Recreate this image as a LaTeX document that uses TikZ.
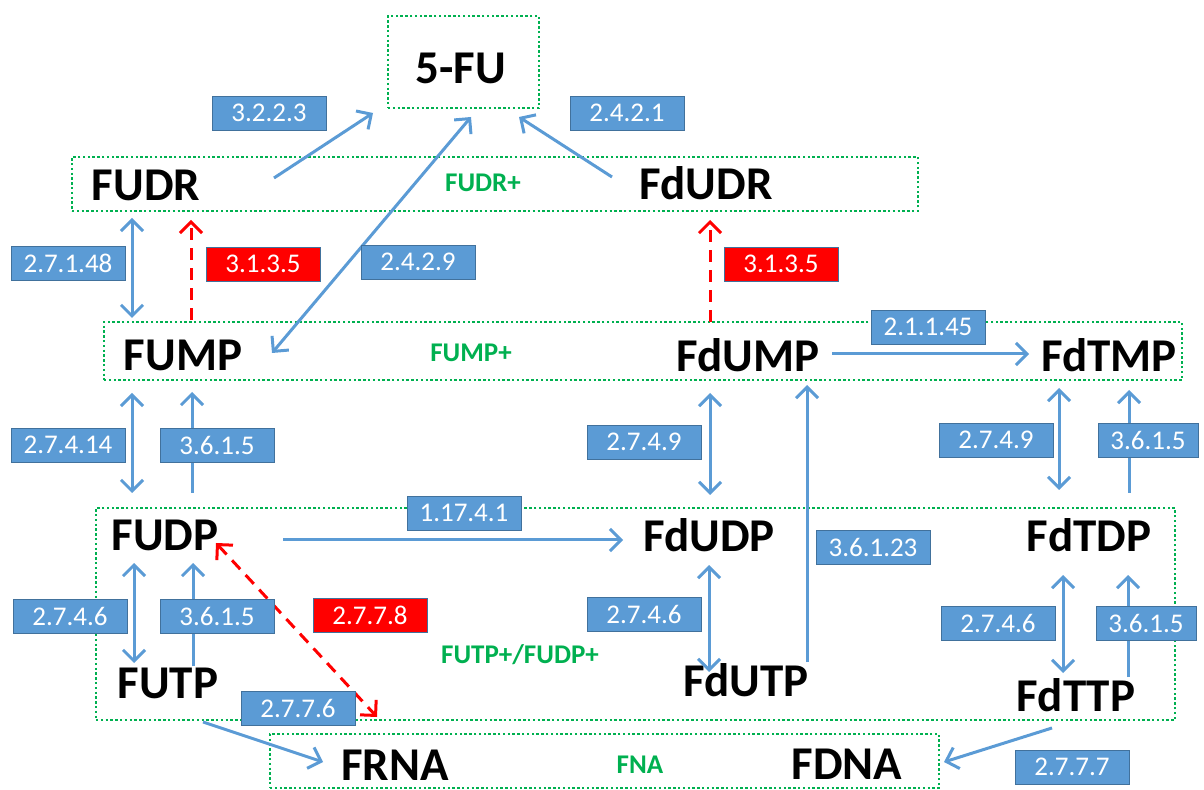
\documentclass[tikz,border=0pt]{standalone}
\usepackage{fontspec}
\setmainfont{Carlito}
\usetikzlibrary{arrows.meta}

\definecolor{ecblue}{RGB}{91,155,213}
\definecolor{ecedge}{RGB}{65,113,156}
\definecolor{grpgreen}{RGB}{0,176,80}

\tikzset{
  species/.style={font=\bfseries\fontsize{23.5}{28}\selectfont, inner sep=0pt},
  ec/.style={fill=ecblue, draw=ecedge, line width=0.4pt, text=white,
    font=\fontsize{13.5}{16}\selectfont, minimum width=57pt, minimum height=17pt, inner sep=0pt},
  ecred/.style={ec, fill=red},
  grp/.style={draw=grpgreen, line width=1.3pt, dash pattern=on 1.2pt off 1.2pt, inner sep=0pt},
  grplabel/.style={text=grpgreen, font=\bfseries\fontsize{13.5}{16}\selectfont},
  barb/.tip={Straight Barb[length=5.5pt,width=11pt]},
  conv/.style={draw=ecblue, line width=1.5pt, -barb},
  rev/.style={draw=ecblue, line width=1.5pt, barb-barb},
  inhib/.style={draw=red, line width=1.5pt, dash pattern=on 6pt off 4pt, -barb},
}

\begin{document}
\begin{tikzpicture}[x=0.5pt,y=-0.5pt]
  \useasboundingbox (0,0) rectangle (1204,790);

  % group boxes
  \node[grp, minimum width=75.5pt, minimum height=46pt] (fugrp) at (463.5,62) {};
  \node[grp, minimum width=423pt, minimum height=27pt] (fudrgrp) at (495,184) {};
  \node[grp, minimum width=539pt, minimum height=29pt] (fumpgrp) at (643,351) {};
  \node[grp, minimum width=539.5pt, minimum height=106pt] (futpgrp) at (635.5,614) {};
  \node[grp, minimum width=334.5pt, minimum height=27pt] (fnagrp) at (604.5,761) {};

  \node[grplabel] (fudrlbl) at (483,183) {FUDR+};
  \node[grplabel] (fumplbl) at (471,353) {FUMP+};
  \node[grplabel] (futplbl) at (520,655) {FUTP+/FUDP+};
  \node[grplabel] (fnalbl) at (640,765) {FNA};

  % species
  \node[species] (fu) at (461,68) {5-FU};
  \node[species] (fudr) at (146,185) {FUDR};
  \node[species] (fdudr) at (706,183) {FdUDR};
  \node[species] (fump) at (183,355) {FUMP};
  \node[species] (fdump) at (748,355) {FdUMP};
  \node[species] (fdtmp) at (1109,355) {FdTMP};
  \node[species] (fudp) at (165,535) {FUDP};
  \node[species] (fdudp) at (709,535) {FdUDP};
  \node[species] (fdtdp) at (1089,535) {FdTDP};
  \node[species] (futp) at (168,683) {FUTP};
  \node[species] (fdutp) at (746,680) {FdUTP};
  \node[species] (fdttp) at (1076,695) {FdTTP};
  \node[species] (frna) at (395,765) {FRNA};
  \node[species] (fdna) at (847,764) {FDNA};
  \coordinate (rnaend) at (377,717);

  % reactions
  \draw[conv] ([shift={(128,-7)}]fudr.center) -- ([shift={(-88,45)}]fu.center);
  \draw[rev] ([shift={(89,-2)}]fump.center) -- ([shift={(10,49)}]fu.center);
  \draw[conv] ([shift={(-94,-6)}]fdudr.center) -- ([shift={(58,49)}]fu.center);
  \draw[rev] ([shift={(-14,33)}]fudr.center) -- ([shift={(-51,-37)}]fump.center);
  \draw[inhib] ([shift={(8,-35)}]fump.center) -- ([shift={(45,35)}]fudr.center);
  \draw[inhib] ([shift={(-38,-33)}]fdump.center) -- ([shift={(4,37)}]fdudr.center);
  \draw[conv] ([shift={(84,-1)}]fdump.center) -- ([shift={(-80,-1)}]fdtmp.center);
  \draw[rev] ([shift={(-51,38)}]fump.center) -- ([shift={(-33,-42)}]fudp.center);
  \draw[conv] ([shift={(27,-42)}]fudp.center) -- ([shift={(9,37)}]fump.center);
  \draw[conv] ([shift={(118,5)}]fudp.center) -- ([shift={(-86,5)}]fdudp.center);
  \draw[rev] ([shift={(-38,38)}]fdump.center) -- ([shift={(1,-40)}]fdudp.center);
  \draw[conv] ([shift={(61,-18)}]fdutp.center) -- ([shift={(59,30)}]fdump.center);
  \draw[rev] ([shift={(-50,33)}]fdtmp.center) -- ([shift={(-30,-45)}]fdtdp.center);
  \draw[conv] ([shift={(40,-42)}]fdtdp.center) -- ([shift={(20,35)}]fdtmp.center);
  \draw[rev] ([shift={(-31,28)}]fudp.center) -- ([shift={(-34,-20)}]futp.center);
  \draw[conv] ([shift={(25,-17)}]futp.center) -- ([shift={(28,28)}]fudp.center);
  \draw[inhib, barb-barb] ([shift={(51,8)}]fudp.center) -- (rnaend);
  \draw[rev] ([shift={(0,30)}]fdudp.center) -- ([shift={(-37,-8)}]fdutp.center);
  \draw[rev] ([shift={(-26,40)}]fdtdp.center) -- ([shift={(-13,-22)}]fdttp.center);
  \draw[conv] ([shift={(52,-18)}]fdttp.center) -- ([shift={(39,40)}]fdtdp.center);
  \draw[conv] ([shift={(35,39)}]futp.center) -- ([shift={(-72,-3)}]frna.center);
  \draw[conv] ([shift={(-24,33)}]fdttp.center) -- ([shift={(97,-2)}]fdna.center);

  % enzymes
  \node[ec] (e3223) at (269,113) {3.2.2.3};
  \node[ec] (e2421) at (627,113) {2.4.2.1};
  \node[ec] (e27148) at (68,263) {2.7.1.48};
  \node[ecred] (e3135a) at (263,264) {3.1.3.5};
  \node[ec] (e2429) at (418,262) {2.4.2.9};
  \node[ecred] (e3135b) at (781,264) {3.1.3.5};
  \node[ec] (e21145) at (928,327) {2.1.1.45};
  \node[ec] (e27414) at (68,445) {2.7.4.14};
  \node[ec] (e3615a) at (217,445) {3.6.1.5};
  \node[ec] (e2749a) at (644,442) {2.7.4.9};
  \node[ec] (e2749b) at (996,440) {2.7.4.9};
  \node[ec, minimum width=50pt] (e3615b) at (1148,440) {3.6.1.5};
  \node[ec] (e11741) at (464,513) {1.17.4.1};
  \node[ec] (e36123) at (873,547) {3.6.1.23};
  \node[ec] (e2746a) at (70,616) {2.7.4.6};
  \node[ec] (e3615c) at (217,616) {3.6.1.5};
  \node[ecred] (e2778) at (370,615) {2.7.7.8};
  \node[ec] (e2746b) at (644,614) {2.7.4.6};
  \node[ec] (e2746c) at (998,623) {2.7.4.6};
  \node[ec, minimum width=50pt] (e3615d) at (1146,623) {3.6.1.5};
  \node[ec] (e2776) at (298,708) {2.7.7.6};
  \node[ec] (e2777) at (1072,767) {2.7.7.7};
\end{tikzpicture}
\end{document}
